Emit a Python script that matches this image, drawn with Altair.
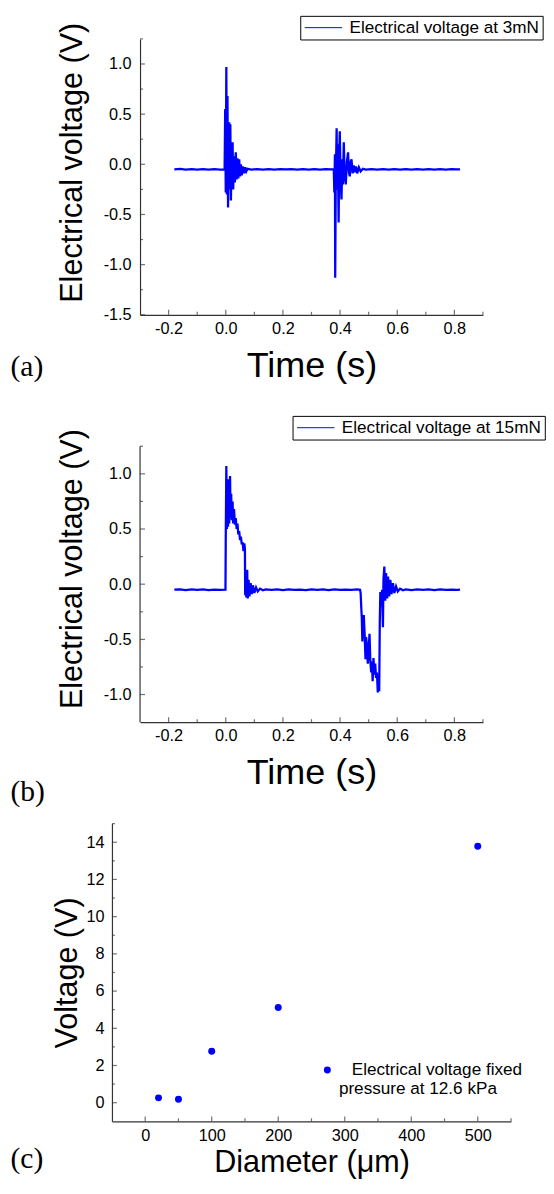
import altair as alt
import pandas as pd

FONT = "Liberation Sans"
SERIF = "Liberation Serif"
AX = "#333333"
BLUE = "#0000ff"

# ---------------- panel (a): 3 mN ----------------
a_pre_t = [-0.18, -0.16, -0.14, -0.12, -0.10, -0.08, -0.06, -0.04, -0.02, -0.004]
a_pre_v = [-0.050, -0.046, -0.053, -0.048, -0.052, -0.047, -0.053, -0.049, -0.052, -0.050]
a_s1_t = [-0.002, 0.000, 0.002, 0.004, 0.006, 0.008, 0.010, 0.012, 0.014, 0.016, 0.018, 0.021,
          0.024, 0.026, 0.029, 0.032, 0.035, 0.038, 0.041, 0.044, 0.047, 0.050, 0.053, 0.056,
          0.060, 0.064, 0.068, 0.072, 0.076]
a_s1_v = [0.55, -0.28, 0.97, -0.30, 0.68, -0.43, 0.20, 0.42, -0.25, 0.40, -0.36, 0.15,
          0.22, -0.25, 0.08, -0.18, 0.12, -0.15, 0.06, -0.14, 0.05, -0.12, 0.00, -0.11,
          -0.02, -0.09, -0.03, -0.07, -0.045]
a_mid_t = [0.09, 0.11, 0.13, 0.15, 0.17, 0.19, 0.21, 0.23, 0.25, 0.27, 0.29, 0.31, 0.33, 0.35, 0.37]
a_mid_v = [-0.053, -0.047, -0.052, -0.048, -0.054, -0.047, -0.051, -0.049, -0.053, -0.047,
           -0.052, -0.048, -0.053, -0.047, -0.051]
a_s2_t = [0.378, 0.380, 0.382, 0.383, 0.385, 0.388, 0.390, 0.392, 0.395, 0.397, 0.399, 0.402,
          0.405, 0.408, 0.410, 0.413, 0.416, 0.420, 0.424, 0.428, 0.431, 0.434, 0.437, 0.440,
          0.444, 0.448, 0.452, 0.456, 0.460, 0.466, 0.472, 0.480]
a_s2_v = [-0.05, -0.28, 0.10, -1.13, -0.15, 0.36, -0.25, 0.20, -0.58, 0.10, 0.33, -0.15,
          -0.35, 0.05, -0.20, 0.22, -0.10, -0.20, 0.03, 0.12, -0.08, -0.12, 0.02, 0.05,
          -0.09, -0.01, -0.08, -0.02, -0.09, -0.03, -0.07, -0.045]
a_post_t = [0.49, 0.51, 0.53, 0.55, 0.57, 0.59, 0.61, 0.63, 0.65, 0.67, 0.69, 0.71, 0.73,
            0.75, 0.77, 0.79, 0.81, 0.82]
a_post_v = [-0.052, -0.047, -0.053, -0.048, -0.052, -0.047, -0.053, -0.049, -0.052, -0.047,
            -0.053, -0.048, -0.052, -0.047, -0.053, -0.049, -0.051, -0.050]

# ---------------- panel (b): 15 mN ----------------
b_pre_t = [-0.18, -0.16, -0.14, -0.12, -0.10, -0.08, -0.06, -0.04, -0.02, -0.001]
b_pre_v = [-0.050, -0.046, -0.053, -0.048, -0.052, -0.047, -0.053, -0.049, -0.052, -0.050]
b_up_t = [0.000, 0.002, 0.004, 0.006, 0.008, 0.010, 0.012, 0.015, 0.017, 0.019, 0.021, 0.024,
          0.026, 0.029, 0.032, 0.035, 0.038, 0.041, 0.044, 0.047, 0.050, 0.053, 0.056, 0.059,
          0.062, 0.065, 0.067, 0.068, 0.070, 0.072, 0.075, 0.077, 0.080, 0.083, 0.087, 0.091,
          0.095, 0.100, 0.106, 0.112, 0.120, 0.130]
b_up_v = [0.43, 1.07, 0.50, 0.85, 0.52, 0.95, 0.55, 0.98, 0.60, 0.82, 0.58, 0.75,
          0.55, 0.68, 0.54, 0.60, 0.50, 0.55, 0.45, 0.48, 0.40, 0.43, 0.36, 0.38,
          0.30, 0.37, 0.32, -0.10, 0.03, -0.12, 0.13, -0.13, 0.04, -0.11, 0.01, -0.09,
          -0.01, -0.08, -0.03, -0.065, -0.04, -0.055]
b_mid_t = [0.14, 0.16, 0.18, 0.20, 0.22, 0.24, 0.26, 0.28, 0.30, 0.32, 0.34, 0.36, 0.38,
           0.40, 0.42, 0.44, 0.46]
b_mid_v = [-0.047, -0.052, -0.048, -0.053, -0.047, -0.051, -0.049, -0.053, -0.047, -0.052,
           -0.048, -0.053, -0.047, -0.051, -0.049, -0.052, -0.048]
b_dn_t = [0.470, 0.472, 0.474, 0.476, 0.478, 0.480, 0.483, 0.486, 0.489, 0.491, 0.494, 0.497,
          0.500, 0.503, 0.506, 0.509, 0.512, 0.514, 0.517, 0.520, 0.523, 0.526, 0.529, 0.532,
          0.535, 0.537, 0.539, 0.541, 0.544, 0.547, 0.550, 0.552, 0.555, 0.558, 0.561, 0.565,
          0.568, 0.572, 0.576, 0.580, 0.585, 0.590, 0.596, 0.602, 0.610, 0.620]
b_dn_v = [-0.05, -0.08, -0.20, -0.30, -0.52, -0.30, -0.28, -0.45, -0.68, -0.48, -0.55, -0.72,
          -0.60, -0.45, -0.70, -0.80, -0.70, -0.88, -0.67, -0.82, -0.72, -0.85, -0.80, -0.98,
          -0.91, -0.97, -0.34, -0.07, -0.20, -0.05, -0.39, 0.05, 0.16, -0.15, 0.10, -0.13,
          0.07, -0.11, 0.04, -0.09, 0.01, -0.08, -0.02, -0.065, -0.04, -0.055]
b_post_t = [0.63, 0.65, 0.67, 0.69, 0.71, 0.73, 0.75, 0.77, 0.79, 0.81, 0.82]
b_post_v = [-0.048, -0.053, -0.047, -0.052, -0.048, -0.053, -0.047, -0.051, -0.049, -0.052, -0.050]

# ---------------- panel (c) ----------------
diameter_um = [20, 50, 100, 200, 500]
voltage_v = [0.26, 0.19, 2.77, 5.12, 13.79]

# ---------------- tick values ----------------
X_MAJOR_T = [-0.2, 0.0, 0.2, 0.4, 0.6, 0.8]
X_MINOR_T = [-0.1, 0.1, 0.3, 0.5, 0.7, 0.9]
Y_MAJOR_A = [-1.5, -1.0, -0.5, 0.0, 0.5, 1.0]
Y_MINOR_A = [-1.25, -0.75, -0.25, 0.25, 0.75, 1.25]
Y_MAJOR_B = [-1.0, -0.5, 0.0, 0.5, 1.0]
Y_MINOR_B = [-0.75, -0.25, 0.25, 0.75, 1.25]
X_MAJOR_C = [0, 100, 200, 300, 400, 500]
X_MINOR_C = [50, 150, 250, 350, 450, 550]
Y_MAJOR_C = [0, 2, 4, 6, 8, 10, 12, 14]
Y_MINOR_C = [1, 3, 5, 7, 9, 11, 13, 15]

LBL1 = "replace(format(datum.value, '.1f'), '\u2212', '-')"

W_AB, H_A = 348, 280
EXT_B = 31.2
H_B = 280 + EXT_B
W_C, H_C = 405, 302.1
B_TOP = 1.25 + EXT_B * 2.5 / 280
LEG_FS = 17.4
SPACING = 102.2


def xticks(vals, size, yval, xs, ys, xax, yax):
    return alt.Chart(pd.DataFrame({"v": vals})).mark_tick(
        orient="vertical", size=size, thickness=1.2, color=AX, yOffset=-size / 2
    ).encode(x=alt.X("v:Q", scale=xs, axis=xax), y=alt.YDatum(yval, scale=ys, axis=yax))


def yticks(vals, size, xval, xs, ys, xax, yax):
    return alt.Chart(pd.DataFrame({"v": vals})).mark_tick(
        orient="horizontal", size=size, thickness=1.2, color=AX, xOffset=size / 2
    ).encode(y=alt.Y("v:Q", scale=ys, axis=yax), x=alt.XDatum(xval, scale=xs, axis=xax))


def panel_title(txt, dx, off):
    return alt.TitleParams(txt, orient="bottom", anchor="start", frame="group", dx=dx,
                           offset=off, baseline="alphabetic", font=SERIF, fontSize=30,
                           fontWeight="normal", color="black")


def signal_panel(t, v, name, ydom, ymaj, ymin, H, ytitle_y, xtitle_y, legx, legy,
                 letter, letter_off, ydomain_line):
    xs = alt.Scale(domain=[-0.3, 0.9], nice=False, zero=False)
    ys = alt.Scale(domain=ydom, nice=False, zero=False)
    xax = alt.Axis(values=X_MAJOR_T, labelExpr=LBL1, title="Time (s)", titleFontSize=36.5,
                   titleX=W_AB / 2, titleY=xtitle_y, titleBaseline="alphabetic", labelPadding=6)
    yax = alt.Axis(values=ymaj, labelExpr=LBL1, title="Electrical voltage (V)", titleFontSize=31,
                   titleX=-59, titleY=ytitle_y, titleBaseline="alphabetic", labelPadding=9,
                   domain=ydomain_line)
    df = pd.DataFrame({"t": t, "v": v, "series": name})
    line = alt.Chart(df).mark_line(strokeWidth=2.3, clip=True).encode(
        x=alt.X("t:Q", scale=xs, axis=xax),
        y=alt.Y("v:Q", scale=ys, axis=yax),
        color=alt.Color("series:N", scale=alt.Scale(range=[BLUE]), legend=alt.Legend(
            orient="none", legendX=legx, legendY=legy, title=None, symbolType="stroke",
            symbolSize=1444, symbolStrokeWidth=1, clipHeight=18, padding=3, symbolOffset=1,
            labelOffset=7, labelFont=FONT, labelFontSize=LEG_FS, labelColor="black",
            labelLimit=0, strokeColor="black", fillColor="white", cornerRadius=0)),
    )
    layers = [line,
              xticks(X_MAJOR_T, 5, ydom[0], xs, ys, xax, yax),
              xticks(X_MINOR_T, 3, ydom[0], xs, ys, xax, yax),
              yticks(ymaj, 5, -0.3, xs, ys, xax, yax),
              yticks(ymin, 3, -0.3, xs, ys, xax, yax)]
    if not ydomain_line:
        rule_df = pd.DataFrame({"lo": [ymaj[0] - 0.25], "hi": [ymin[-1]]})
        layers.append(alt.Chart(rule_df).mark_rule(color=AX, strokeWidth=1.2).encode(
            x=alt.XDatum(-0.3, scale=xs, axis=xax),
            y=alt.Y("lo:Q", scale=ys, axis=yax), y2="hi:Q"))
    return alt.layer(*layers).properties(
        width=W_AB, height=H, title=panel_title(letter, -131.5, letter_off))


pa = signal_panel(a_pre_t + a_s1_t + a_mid_t + a_s2_t + a_post_t,
                  a_pre_v + a_s1_v + a_mid_v + a_s2_v + a_post_v,
                  "Electrical voltage at 3mN", [-1.5, 1.25], Y_MAJOR_A, Y_MINOR_A, H_A,
                  125.2, 63, 162.6, -23.4, "(a)", -8.6, True)
pb = signal_panel(b_pre_t + b_up_t + b_mid_t + b_dn_t + b_post_t,
                  b_pre_v + b_up_v + b_mid_v + b_dn_v + b_post_v,
                  "Electrical voltage at 15mN", [-1.25, B_TOP], Y_MAJOR_B, Y_MINOR_B, H_B,
                  EXT_B + 124.2, 62, 154.8, EXT_B - 30.8, "(b)", 10.4, False)

# panel (c)
xs_c = alt.Scale(domain=[-50, 550], nice=False, zero=False)
ys_c = alt.Scale(domain=[-1, 15], nice=False, zero=False)
xax_c = alt.Axis(values=X_MAJOR_C, format="d", title="Diameter (\u03bcm)", titleFontSize=31,
                 titleX=W_C / 2, titleY=51, titleBaseline="alphabetic", labelPadding=6)
yax_c = alt.Axis(values=Y_MAJOR_C, format="d", title="Voltage (V)", titleFontSize=31,
                 titleX=-35.6, titleY=H_C / 2, titleBaseline="alphabetic", labelPadding=8)
df_c = pd.DataFrame({"d": diameter_um, "u": voltage_v, "series": "Electrical voltage fixed"})
pts = alt.Chart(df_c).mark_point(filled=True, size=50, opacity=1).encode(
    x=alt.X("d:Q", scale=xs_c, axis=xax_c),
    y=alt.Y("u:Q", scale=ys_c, axis=yax_c),
    color=alt.Color("series:N", scale=alt.Scale(range=[BLUE]), legend=alt.Legend(
        orient="none", legendX=209.9, legendY=H_C - 60.7, title=None, symbolType="circle",
        symbolSize=50, symbolStrokeWidth=0, symbolOpacity=1, padding=0, labelOffset=3,
        labelFont=FONT, labelFontSize=LEG_FS, labelColor="black", labelLimit=0,
        labelExpr="['\u200b\u2002\u2005Electrical voltage fixed', 'pressure at 12.6 kPa']")),
)
pc = alt.layer(
    pts,
    xticks(X_MAJOR_C, 5, -1, xs_c, ys_c, xax_c, yax_c),
    xticks(X_MINOR_C, 3, -1, xs_c, ys_c, xax_c, yax_c),
    yticks(Y_MAJOR_C, 5, -50, xs_c, ys_c, xax_c, yax_c),
    yticks(Y_MINOR_C, 3, -50, xs_c, ys_c, xax_c, yax_c),
).properties(width=W_C, height=H_C, title=panel_title("(c)", -103, -9.2))

chart = alt.vconcat(pa, pb, pc, spacing=SPACING, center=True, bounds="flush").resolve_scale(
    color="independent"
).resolve_legend(color="independent").properties(
    autosize=alt.AutoSizeParams(type="none"),
    padding={"left": 105.5, "top": 22.6, "right": 440.5, "bottom": 1155.4},
).configure_view(stroke=None).configure_axis(
    ticks=False, grid=False, domainColor=AX, domainWidth=1.2, labelFont=FONT,
    labelFontSize=16.5, labelColor="black", titleFont=FONT, titleFontWeight="normal",
    titleColor="black", labelFlush=False, labelOverlap=False
)

chart.save("out.html", embed_options={"renderer": "svg", "actions": False})
